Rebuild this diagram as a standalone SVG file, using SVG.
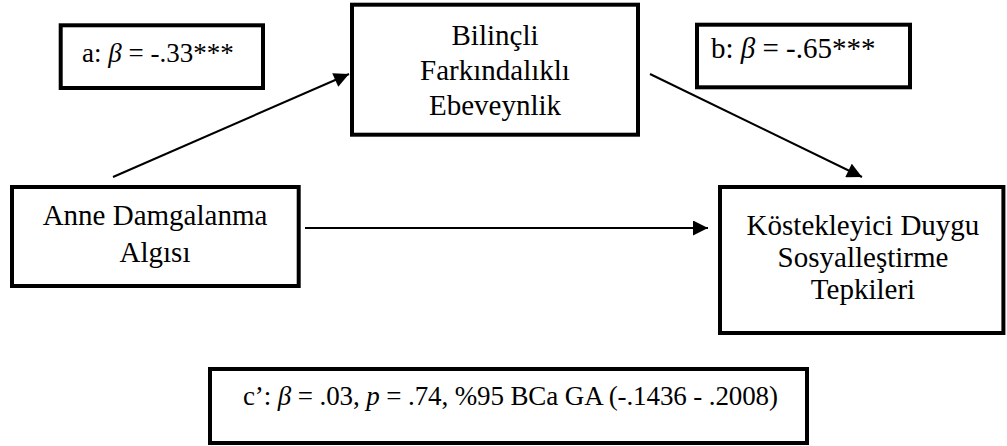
<svg xmlns="http://www.w3.org/2000/svg" width="1007" height="446" viewBox="0 0 1007 446">
<style>
.box{fill:#fff;stroke:#000;stroke-width:4}
.t{font-family:"Liberation Serif","Times New Roman",serif;font-size:29px;fill:#000}
.s{font-size:27px}
.c{text-anchor:middle}
.i{font-style:italic}
.ln{stroke:#000;stroke-width:2;fill:none}
</style>
<defs>
<marker id="ah" viewBox="0 0 16 16" refX="16" refY="8" markerWidth="16" markerHeight="15" markerUnits="userSpaceOnUse" orient="auto">
<path d="M0,0 L16,8 L0,16 Z" fill="#000"/>
</marker>
</defs>
<g id="connectors">
<line class="ln" x1="113" y1="177" x2="349" y2="74" marker-end="url(#ah)"/>
<line class="ln" x1="650" y1="74" x2="862" y2="177" marker-end="url(#ah)"/>
<line class="ln" x1="305" y1="228" x2="708" y2="228" marker-end="url(#ah)"/>
</g>
<g id="label-a">
<rect class="box" x="60.7" y="25.3" width="202.3" height="62.7"/>
<text class="t s" x="82" y="62">a: <tspan class="i">β</tspan> = -.33***</text>
</g>
<g id="label-b">
<rect class="box" x="697" y="24.7" width="213" height="62.6"/>
<text class="t" x="711" y="58">b: <tspan class="i">β</tspan> = -.65***</text>
</g>
<g id="node-mediator">
<rect class="box" x="352" y="4.7" width="286" height="130"/>
<text class="t c" x="495" y="45">Bilinçli</text>
<text class="t c" x="495" y="80">Farkındalıklı</text>
<text class="t c" x="495" y="115">Ebeveynlik</text>
</g>
<g id="node-predictor">
<rect class="box" x="12" y="187" width="286.7" height="99"/>
<text class="t c" x="155" y="225">Anne Damgalanma</text>
<text class="t c" x="155" y="262">Algısı</text>
</g>
<g id="node-outcome">
<rect class="box" x="720" y="187" width="283.4" height="146"/>
<text class="t c" x="863" y="235">Köstekleyici Duygu</text>
<text class="t c" x="863" y="267">Sosyalleştirme</text>
<text class="t c" x="863" y="299">Tepkileri</text>
</g>
<g id="label-c">
<rect class="box" x="210" y="369" width="597" height="74"/>
<text class="t s" x="243" y="405" textLength="535" lengthAdjust="spacing">c’: <tspan class="i">β</tspan> = .03, <tspan class="i">p</tspan> = .74, %95 BCa GA (-.1436 - .2008)</text>
</g>
</svg>
